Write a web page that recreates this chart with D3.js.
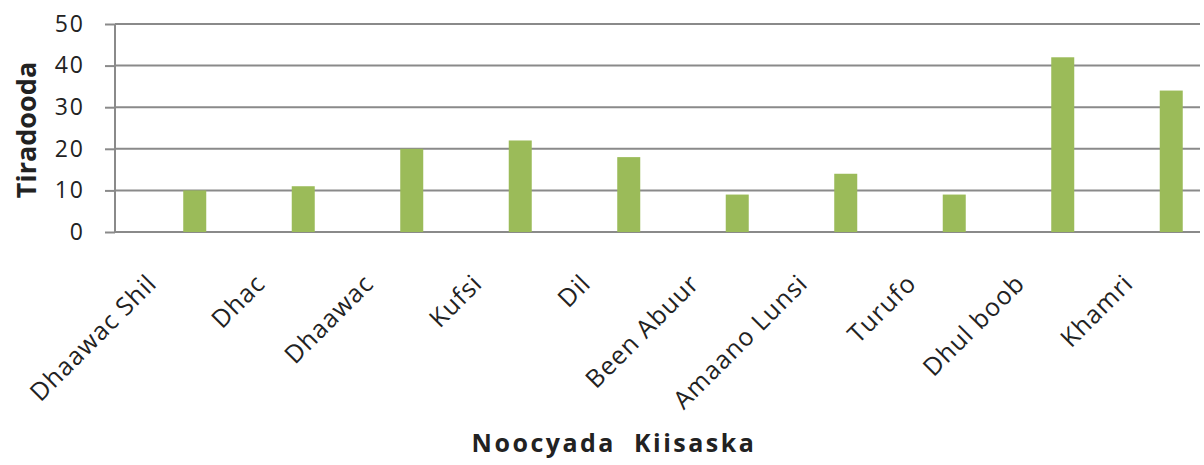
<!DOCTYPE html>
<html>
<head>
<meta charset="utf-8">
<script src="https://cdn.jsdelivr.net/npm/d3@7"></script>
<style>
  html, body { margin: 0; padding: 0; background: #fff; }
  svg { display: block; }
  text { font-family: "Open Sans", "Noto Sans", sans-serif; fill: #222; }
</style>
</head>
<body>
<svg id="chart" width="1204" height="465"></svg>
<script>
const categories = ["Dhaawac Shil", "Dhac", "Dhaawac", "Kufsi", "Dil", "Been Abuur", "Amaano Lunsi", "Turufo", "Dhul boob", "Khamri"];
const values = [10, 11, 20, 22, 18, 9, 14, 9, 42, 34];
const yTicks = [0, 10, 20, 30, 40, 50];
const yTitle = "Tiradooda";
const xTitle = "Noocyada  Kiisaska";

(function () {
const svg = d3.select("#chart");
const mLeft = 115, mRight = 1200, mTop = 24, mBottom = 232;

const x = d3.scaleBand().domain(categories).range([mLeft, mRight]).padding(0);
const y = d3.scaleLinear().domain([0, 50]).range([mBottom, mTop]);

const gridColor = "#8a8a8a";

// y ticks
const yAxis = d3.axisLeft(y).tickValues(yTicks).tickSize(10).tickPadding(20).tickFormat(d3.format("d"));
const gy = svg.append("g").attr("transform", `translate(${mLeft},0)`).call(yAxis);
gy.select(".domain").remove();
gy.selectAll(".tick line").attr("stroke", gridColor).attr("stroke-width", 2);
gy.selectAll(".tick text").attr("font-size", 23).attr("letter-spacing", 2).style("fill", "#222");

// gridlines
svg.append("g").selectAll("line").data(yTicks).join("line")
  .attr("x1", mLeft).attr("x2", mRight)
  .attr("y1", d => y(d)).attr("y2", d => y(d))
  .attr("stroke", gridColor).attr("stroke-width", 2);

// vertical axis line
svg.append("line").attr("x1", mLeft).attr("x2", mLeft).attr("y1", mTop).attr("y2", mBottom)
  .attr("stroke", gridColor).attr("stroke-width", 2);

// bars
const barW = 23;
svg.append("g").selectAll("rect").data(values).join("rect")
  .attr("x", (d, i) => x(categories[i]) + x.bandwidth() * 0.735 - barW / 2)
  .attr("width", barW)
  .attr("y", d => y(d))
  .attr("height", d => y(0) - y(d))
  .attr("fill", "#9bbb59");

// x labels
const xAxis = d3.axisBottom(x).tickSize(0).tickPadding(0);
const gx = svg.append("g").attr("transform", `translate(0,${mBottom})`).call(xAxis);
gx.select(".domain").remove();
gx.selectAll(".tick text")
  .attr("font-size", 25)
  .attr("letter-spacing", 1)
  .attr("text-anchor", "end")
  .attr("dy", 0)
  .attr("y", 0)
  .attr("transform", "translate(-11,53) rotate(-45)")
  .style("fill", "#222");

// titles
svg.append("text").attr("transform", "translate(36,130) rotate(-90)")
  .attr("text-anchor", "middle").attr("font-size", 27).attr("font-weight", "bold").text(yTitle);
svg.append("text").attr("x", 614).attr("y", 452)
  .attr("text-anchor", "middle").attr("font-size", 25).attr("font-weight", "bold")
  .attr("letter-spacing", 2.5)
  .attr("xml:space", "preserve").style("white-space", "pre").text(xTitle);
})();
</script>
</body>
</html>
